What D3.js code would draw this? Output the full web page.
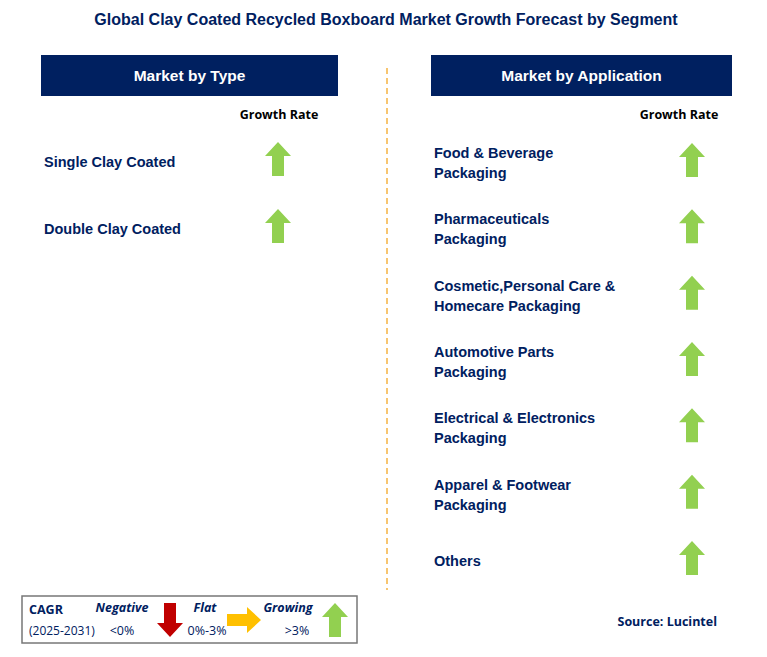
<!DOCTYPE html>
<html><head><meta charset="utf-8">
<script src="https://cdn.jsdelivr.net/npm/d3@7"></script>
<style>body{margin:0;background:#fff}svg{font-family:Arial,"Liberation Sans",sans-serif}</style>
</head><body><svg id="chart" width="767" height="657"></svg>
<script>
const typeCats = ["Single Clay Coated", "Double Clay Coated"];
const typeGrowth = ["growing", "growing"];
const appCats = [["Food & Beverage", "Packaging"], ["Pharmaceuticals", "Packaging"],
  ["Cosmetic,Personal Care &", "Homecare Packaging"], ["Automotive Parts", "Packaging"],
  ["Electrical & Electronics", "Packaging"], ["Apparel & Footwear", "Packaging"], ["Others"]];
const appGrowth = ["growing", "growing", "growing", "growing", "growing", "growing", "growing"];

const navy = "#002060", green = "#92d050";
const svg = d3.select("#chart");

svg.append("text").attr("x", 386).attr("y", 25).attr("text-anchor", "middle")
  .attr("font-size", 16).attr("font-weight", "bold").attr("fill", navy)
  .text("Global Clay Coated Recycled Boxboard Market Growth Forecast by Segment");

// arrow shape, centred at 0,0
function arrow(g, dir, color) {
  const p = [[0,-17],[13,-3],[6,-3],[6,17],[-6,17],[-6,-3],[-13,-3]];
  const rot = dir === "down" ? 180 : dir === "right" ? 90 : 0;
  g.append("path").attr("d", d3.line()(p) + "Z").attr("fill", color)
    .attr("transform", `rotate(${rot})`);
}

function panel(x0, w, title, cats, growth, yScale, arrowX, labelX) {
  svg.append("rect").attr("x", x0).attr("y", 55).attr("width", w).attr("height", 41).attr("fill", navy);
  svg.append("text").attr("x", x0 + w / 2).attr("y", 81).attr("text-anchor", "middle")
    .attr("fill", "#fff").attr("font-size", 15.5).attr("font-weight", "bold").text(title);
  svg.append("text").attr("x", labelX).attr("y", 119).attr("text-anchor", "middle")
    .attr("font-size", 12.5).attr("font-weight", "bold").attr("fill", "#000")
    .attr("font-family", "'Open Sans',sans-serif").text("Growth Rate");
  cats.forEach((c, i) => {
    const lines = Array.isArray(c) ? c : [c];
    const cy = yScale(i);
    const t = svg.append("text").attr("font-size", 14.5).attr("font-weight", "bold").attr("fill", navy);
    lines.forEach((l, j) => t.append("tspan").attr("x", x0 + 3)
      .attr("y", cy + 5 + (j - (lines.length - 1) / 2) * 20).text(l));
    const g = svg.append("g").attr("transform", `translate(${arrowX},${cy - 3})`);
    arrow(g, growth[i] === "growing" ? "up" : growth[i] === "flat" ? "right" : "down",
      growth[i] === "growing" ? green : growth[i] === "flat" ? "#ffc000" : "#c00000");
  });
}

const yType = d3.scaleLinear().domain([0, 1]).range([162, 229]);
const yApp = d3.scaleLinear().domain([0, 6]).range([163, 561]);
panel(41, 297, "Market by Type", typeCats, typeGrowth, yType, 278, 279);
panel(431, 301, "Market by Application", appCats, appGrowth, yApp, 692, 679);

svg.append("line").attr("x1", 387).attr("x2", 387).attr("y1", 68).attr("y2", 590)
  .attr("stroke", "#f5b342").attr("stroke-width", 1.5).attr("stroke-dasharray", "6,4");

// legend
const lg = svg.append("g");
lg.append("rect").attr("x", 22).attr("y", 596).attr("width", 335).attr("height", 47)
  .attr("fill", "#fff").attr("stroke", "#777").attr("stroke-width", 1.5);
const lf = "'Open Sans',sans-serif";
lg.append("text").attr("x", 29).attr("y", 614).attr("font-size", 12.5).attr("font-weight", "bold")
  .attr("fill", navy).attr("font-family", lf).text("CAGR");
lg.append("text").attr("x", 29).attr("y", 635).attr("font-size", 12)
  .attr("fill", navy).attr("font-family", lf).text("(2025-2031)");
[["Negative", "<0%", 122, 122, "down", "#c00000", 170],
 ["Flat", "0%-3%", 205, 207, "right", "#ffc000", 244],
 ["Growing", ">3%", 288, 297, "up", green, 335]].forEach(d => {
  lg.append("text").attr("x", d[2]).attr("y", 612).attr("text-anchor", "middle")
    .attr("font-size", 12.5).attr("font-weight", "bold").attr("font-style", "italic")
    .attr("fill", navy).attr("font-family", lf).text(d[0]);
  lg.append("text").attr("x", d[3]).attr("y", 635).attr("text-anchor", "middle")
    .attr("font-size", 12.5).attr("fill", navy).attr("font-family", lf).text(d[1]);
  const g = lg.append("g").attr("transform", `translate(${d[6]},620)`);
  arrow(g, d[4], d[5]);
});

svg.append("text").attr("x", 717).attr("y", 626).attr("text-anchor", "end")
  .attr("font-size", 12.5).attr("font-weight", "bold").attr("fill", navy)
  .attr("font-family", lf).text("Source: Lucintel");
</script></body></html>
